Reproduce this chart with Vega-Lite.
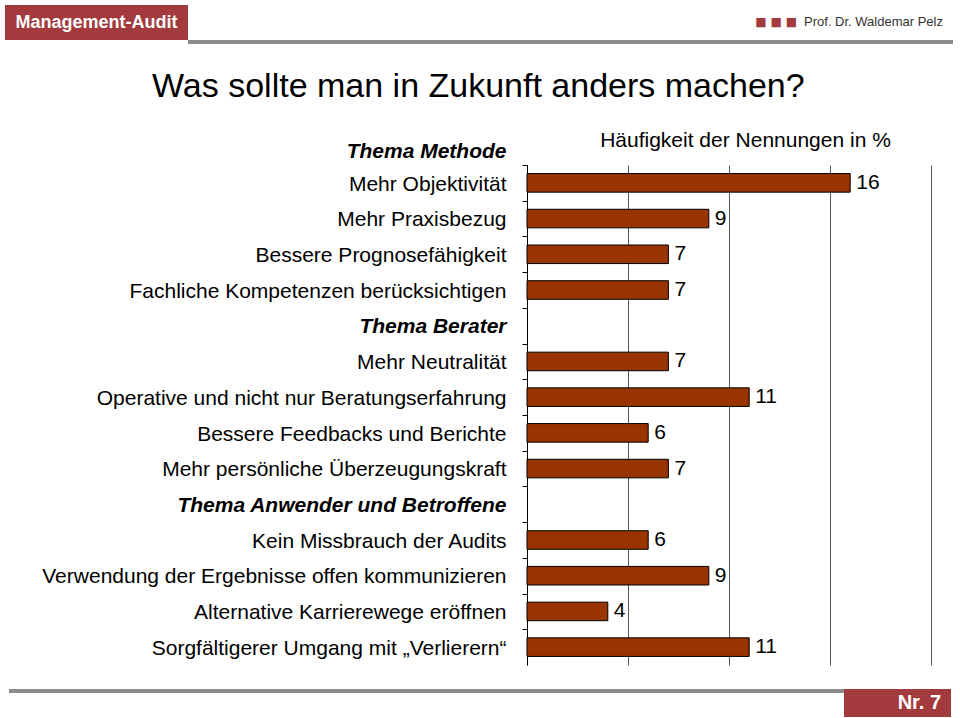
{
  "$schema": "https://vega.github.io/schema/vega-lite/v6.json",
  "padding": {"left": 5, "top": 5, "right": 5, "bottom": 0},
  "background": "white",
  "spacing": 0,
  "config": {
    "view": {"stroke": null},
    "concat": {"spacing": 0}
  },
  "datasets": {
    "umfrage": [
      {"aussage": "Mehr Objektivität", "anteil": 16, "thema": "Methode"},
      {"aussage": "Mehr Praxisbezug", "anteil": 9, "thema": "Methode"},
      {"aussage": "Bessere Prognosefähigkeit", "anteil": 7, "thema": "Methode"},
      {"aussage": "Fachliche Kompetenzen berücksichtigen", "anteil": 7, "thema": "Methode"},
      {"aussage": "Mehr Neutralität", "anteil": 7, "thema": "Berater"},
      {"aussage": "Operative und nicht nur Beratungserfahrung", "anteil": 11, "thema": "Berater"},
      {"aussage": "Bessere Feedbacks und Berichte", "anteil": 6, "thema": "Berater"},
      {"aussage": "Mehr persönliche Überzeugungskraft", "anteil": 7, "thema": "Berater"},
      {"aussage": "Kein Missbrauch der Audits", "anteil": 6, "thema": "Anwender und Betroffene"},
      {"aussage": "Verwendung der Ergebnisse offen kommunizieren", "anteil": 9, "thema": "Anwender und Betroffene"},
      {"aussage": "Alternative Karrierewege eröffnen", "anteil": 4, "thema": "Anwender und Betroffene"},
      {"aussage": "Sorgfältigerer Umgang mit „Verlierern“", "anteil": 11, "thema": "Anwender und Betroffene"}
    ]
  },
  "vconcat": [
    {
      "bounds": "flush",
      "spacing": 0,
      "hconcat": [
        {
          "width": 183,
          "height": 35,
          "view": {"fill": "#a33a3d", "stroke": null},
          "data": {"values": [{"t": "Management-Audit"}]},
          "mark": {"type": "text", "color": "white", "fontSize": 18, "fontWeight": "bold", "font": "Liberation Sans"},
          "encoding": {"text": {"field": "t"}}
        },
        {
          "width": 765,
          "height": 34,
          "view": {"fill": "white", "stroke": null},
          "data": {"values": [{"t": "Prof. Dr. Waldemar Pelz", "s": "■ ■ ■"}]},
          "layer": [
            {
              "mark": {"type": "text", "x": "width", "dx": -10, "align": "right", "fontSize": 13, "font": "Liberation Sans", "color": "#333333"},
              "encoding": {"text": {"field": "t"}}
            },
            {
              "mark": {"type": "text", "x": "width", "dx": -156, "align": "right", "fontSize": 12, "font": "DejaVu Sans", "color": "#a33a3d"},
              "encoding": {"text": {"field": "s"}}
            }
          ]
        }
      ]
    },
    {
      "bounds": "flush",
      "spacing": 0,
      "hconcat": [
        {
          "width": 183,
          "height": 4,
          "view": {"fill": "white", "stroke": null},
          "data": {"values": []},
          "mark": "rect"
        },
        {
          "width": 765,
          "height": 4,
          "view": {"fill": "#8c8c8c", "stroke": null},
          "data": {"values": []},
          "mark": "rect"
        }
      ]
    },
    {
      "width": 10,
      "height": 26,
      "view": {"fill": "white", "stroke": null},
      "data": {"values": []},
      "mark": "rect"
    },
    {
      "bounds": "flush",
      "spacing": 0,
      "hconcat": [
        {
          "width": 522,
          "height": 500,
          "view": {"fill": "white", "stroke": null},
          "data": {"values": []},
          "mark": "rect"
        },
        {
          "width": 404,
          "height": 500,
          "data": {"name": "umfrage"},
          "title": {
            "text": "Was sollte man in Zukunft anders machen?",
            "anchor": "start",
            "frame": "group",
            "orient": "top",
            "dx": -375,
            "offset": 25,
            "fontSize": 34,
            "fontWeight": "normal",
            "font": "Liberation Sans",
            "color": "black"
          },
          "encoding": {
            "y": {
              "field": "aussage",
              "type": "nominal",
              "sort": null,
              "scale": {
                "domain": [
                  "Mehr Objektivität",
                  "Mehr Praxisbezug",
                  "Bessere Prognosefähigkeit",
                  "Fachliche Kompetenzen berücksichtigen",
                  "Thema Berater",
                  "Mehr Neutralität",
                  "Operative und nicht nur Beratungserfahrung",
                  "Bessere Feedbacks und Berichte",
                  "Mehr persönliche Überzeugungskraft",
                  "Thema Anwender und Betroffene",
                  "Kein Missbrauch der Audits",
                  "Verwendung der Ergebnisse offen kommunizieren",
                  "Alternative Karrierewege eröffnen",
                  "Sorgfältigerer Umgang mit „Verlierern“"
                ],
                "paddingInner": 0.48,
                "paddingOuter": 0.24
              },
              "axis": {
                "title": "Thema Methode",
                "titleAngle": 0,
                "titleAlign": "right",
                "titleBaseline": "middle",
                "titleX": -21,
                "titleY": -14,
                "titleFont": "Liberation Sans",
                "titleFontSize": 21,
                "titleFontStyle": "italic",
                "titleFontWeight": "bold",
                "titleColor": "black",
                "labelFont": "Liberation Sans",
                "labelFontSize": 21,
                "labelColor": "black",
                "labelPadding": 16,
                "labelLimit": 700,
                "labelFontWeight": {"condition": {"test": "datum.value === 'Thema Berater' || datum.value === 'Thema Anwender und Betroffene'", "value": "bold"}, "value": "normal"},
                "labelFontStyle": {"condition": {"test": "datum.value === 'Thema Berater' || datum.value === 'Thema Anwender und Betroffene'", "value": "italic"}, "value": "normal"},
                "domainColor": "black",
                "domainWidth": 1,
                "tickColor": "black",
                "tickSize": 5,
                "tickWidth": 1,
                "tickOffset": -17.857,
                "labelOffset": 19,
                "grid": false
              }
            },
            "x": {
              "field": "anteil",
              "type": "quantitative",
              "scale": {"domain": [0, 20], "nice": false},
              "axis": {
                "orient": "top",
                "values": [0, 5, 10, 15, 20],
                "labels": false,
                "ticks": false,
                "domain": false,
                "grid": true,
                "gridColor": "#555555",
                "gridWidth": 1,
                "gridOpacity": 1,
                "title": "Häufigkeit der Nennungen in %",
                "titleFont": "Liberation Sans",
                "titleFontSize": 21,
                "titleFontWeight": "normal",
                "titleColor": "black",
                "titleX": 218,
                "titleY": -19,
                "titleAlign": "center",
                "titleBaseline": "alphabetic"
              }
            }
          },
          "layer": [
            {
              "mark": {"type": "bar", "color": "#993300", "stroke": "black", "strokeWidth": 1}
            },
            {
              "mark": {"type": "text", "align": "left", "baseline": "middle", "dx": 6, "fontSize": 21, "font": "Liberation Sans", "color": "black"},
              "encoding": {"text": {"field": "anteil", "type": "quantitative"}}
            }
          ]
        }
      ]
    },
    {
      "width": 10,
      "height": 24,
      "view": {"fill": "white", "stroke": null},
      "data": {"values": []},
      "mark": "rect"
    },
    {
      "bounds": "flush",
      "spacing": 0,
      "hconcat": [
        {
          "width": 4,
          "height": 4,
          "view": {"fill": "white", "stroke": null},
          "data": {"values": []},
          "mark": "rect"
        },
        {
          "width": 835,
          "height": 4,
          "view": {"fill": "#8c8c8c", "stroke": null},
          "data": {"values": []},
          "mark": "rect"
        },
        {
          "width": 107,
          "height": 28,
          "view": {"fill": "#a33a3d", "stroke": null},
          "data": {"values": [{"t": "Nr. 7"}]},
          "mark": {"type": "text", "x": "width", "dx": -10, "align": "right", "color": "white", "fontSize": 20, "fontWeight": "bold", "font": "Liberation Sans"},
          "encoding": {"text": {"field": "t"}}
        }
      ]
    }
  ]
}
